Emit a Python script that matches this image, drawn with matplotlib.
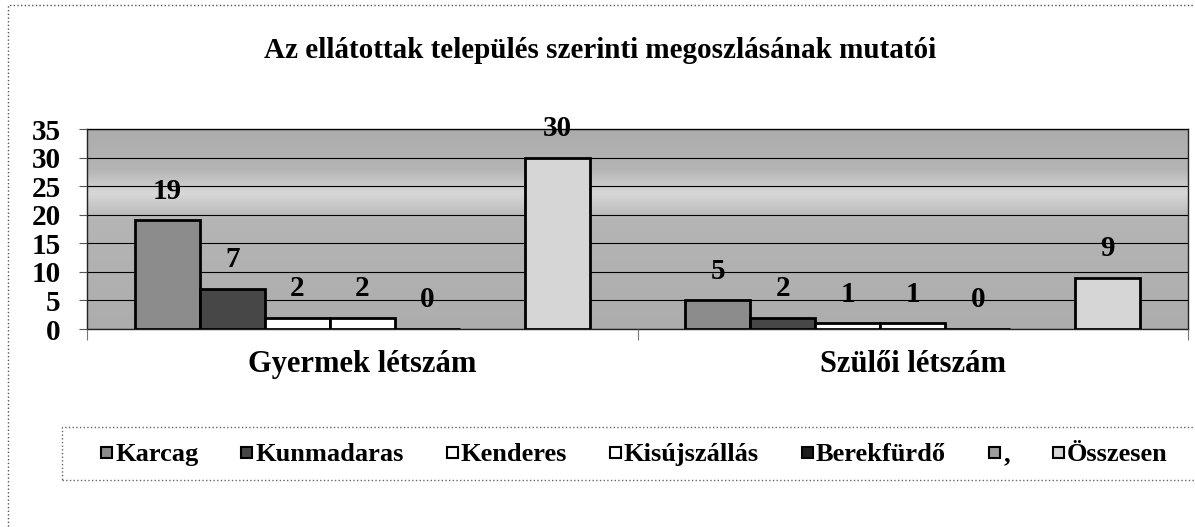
import numpy as np
import matplotlib
matplotlib.use("Agg")
import matplotlib.pyplot as plt
from matplotlib.colors import LinearSegmentedColormap
from matplotlib.patches import Rectangle

# data
categories = ["Gyermek létszám", "Szülői létszám"]
series_names = ["Karcag", "Kunmadaras", "Kenderes", "Kisújszállás",
                "Berekfürdő", ",", "Összesen"]
karcag = [19, 5]
kunmadaras = [7, 2]
kenderes = [2, 1]
kisujszallas = [2, 1]
berekfurdo = [0, 0]
comma = [np.nan, np.nan]  # empty series, only in legend
osszesen = [30, 9]
yticks = [0, 5, 10, 15, 20, 25, 30, 35]
title = "Az ellátottak település szerinti megoszlásának mutatói"

values = [karcag, kunmadaras, kenderes, kisujszallas, berekfurdo, comma, osszesen]
colors = ["#8c8c8c", "#474747", "#ffffff", "#ffffff", "#1c1c1c", "#9c9c9c", "#d6d6d6"]

plt.rcParams['font.family'] = ['Liberation Serif', 'DejaVu Serif']
plt.rcParams['font.weight'] = 'bold'

W, H = 1195, 527
fig = plt.figure(figsize=(W / 100, H / 100), dpi=100)
ax = fig.add_axes([87 / W, 1 - 329 / H, 1101 / W, 200 / H])

# gray background with a lighter band near the top
cmap = LinearSegmentedColormap.from_list(
    "bg", [(0, "#adadad"), (0.55, "#b5b5b5"), (0.68, "#d8d8d8"), (0.8, "#b4b4b4"), (1, "#acacac")])
grad = np.linspace(0, 1, 256).reshape(-1, 1)
ax.imshow(grad, cmap=cmap, extent=[-0.5, 1.5, 0, 35], origin="lower",
          aspect="auto", zorder=0)

n = len(values)
width = 0.118
x = np.arange(len(categories))
for i, (vals, col, name) in enumerate(zip(values, colors, series_names)):
    pos = x + (i - (n - 1) / 2) * width
    ax.bar(pos, vals, width=width, color=col, edgecolor="black",
           linewidth=2, label=name, zorder=3)
    for p, v in zip(pos, vals):
        if np.isnan(v):
            continue
        ax.annotate(f"{v:g}", (p, v), xytext=(0, 21), textcoords="offset points",
                    ha="center", va="center", fontsize=21, fontweight="bold", zorder=4)

ax.set_xlim(-0.5, 1.5)
ax.set_ylim(0, 35)
ax.set_yticks(yticks)
ax.set_yticklabels([str(t) for t in yticks], fontsize=21, fontweight="bold")
ax.yaxis.grid(True, color="black", linewidth=0.8, zorder=1)
ax.set_axisbelow(False)
ax.tick_params(axis="y", length=6, width=0.8, color="#555555", pad=13)

ax.set_xticks([-0.5, 0.5, 1.5])
ax.set_xticklabels(["", "", ""])
ax.set_xticks(x, minor=True)
ax.set_xticklabels(categories, minor=True, fontsize=22, fontweight="bold")
ax.tick_params(axis="x", which="major", length=8, width=0.8, color="#777777")
ax.tick_params(axis="x", which="minor", length=0, pad=15)

for s in ax.spines.values():
    s.set_color("#222222")
    s.set_linewidth(1)

fig.text(600 / W, 1 - 50 / H, title, ha="center", va="center",
         fontsize=21, fontweight="bold")

# legend box
fig.patches.append(Rectangle((62 / W, 1 - 480 / H), 1.1, 53 / H,
                             transform=fig.transFigure, fill=False,
                             edgecolor="#666666", linestyle=":", linewidth=1))

# legend entries drawn by hand so all names share one baseline
renderer = fig.canvas.get_renderer()
cursor = 101
baseline = 461
box = 11
for name, col in zip(series_names, colors):
    fig.patches.append(Rectangle((cursor / W, 1 - (baseline - 3) / H), box / W, box / H,
                                 transform=fig.transFigure, facecolor=col,
                                 edgecolor="black", linewidth=1.5))
    t = fig.text((cursor + box + 3) / W, 1 - baseline / H, name, ha="left",
                 va="baseline", fontsize=19, fontweight="bold")
    tw = t.get_window_extent(renderer).width
    cursor += box + 3 + tw + 43

# outer chart border
fig.patches.append(Rectangle((8 / W, -0.1), 1.1, 1 - 5 / H + 0.1,
                             transform=fig.transFigure, fill=False,
                             edgecolor="#555555", linestyle=":", linewidth=1))

fig.savefig("out.png", dpi=100)
